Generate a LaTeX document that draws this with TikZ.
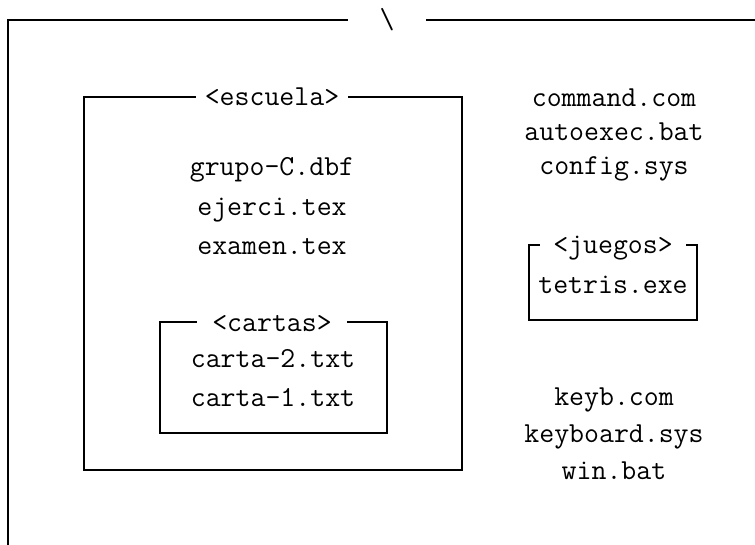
\documentclass[tikz,border=0pt]{standalone}
\usepackage{fontspec}
\begin{document}
\begin{tikzpicture}[x=1pt,y=-1pt,
  ft/.style={font=\ttfamily\fontsize{29}{35}\selectfont, inner sep=0pt, text height=18pt, text depth=0pt, anchor=center},
  ttl/.style={ft, fill=white, inner xsep=9pt, inner ysep=2pt},
  frame/.style={line width=2pt}]
\useasboundingbox (0,0) rectangle (755,545);
% outer frame
\coordinate (o1) at (8,548);
\coordinate (o2) at (8,20);
\coordinate (o3) at (758,20);
\draw[frame] (o1) -- (o2) -- (o3);
\node[ttl, inner xsep=32pt] (root) at (387,20) {\textbackslash};
% escuela
\draw[frame] (84,97) rectangle (462,470);
\node[ttl] (esc) at (272,97) {<escuela>};
\node[ft] (f1) at (272,167) {grupo-C.dbf};
\node[ft] (f2) at (272,207) {ejerci.tex};
\node[ft] (f3) at (272,246) {examen.tex};
% cartas
\draw[frame] (160,322) rectangle (387,433);
\node[ttl, inner xsep=15pt] (car) at (272,322) {<cartas>};
\node[ft] (c1) at (273,358) {carta-2.txt};
\node[ft] (c2) at (273,397) {carta-1.txt};
% right column
\node[ft] (r1) at (614,98) {command.com};
\node[ft] (r2) at (614,132) {autoexec.bat};
\node[ft] (r3) at (614,166) {config.sys};
% juegos
\draw[frame] (529,245) rectangle (697,320);
\node[ttl, inner xsep=13pt] (jue) at (613,245) {<juegos>};
\node[ft] (j1) at (613,285) {tetris.exe};
% lower right
\node[ft] (k1) at (614,396) {keyb.com};
\node[ft] (k2) at (614,433) {keyboard.sys};
\node[ft] (k3) at (614,470) {win.bat};
\end{tikzpicture}
\end{document}
